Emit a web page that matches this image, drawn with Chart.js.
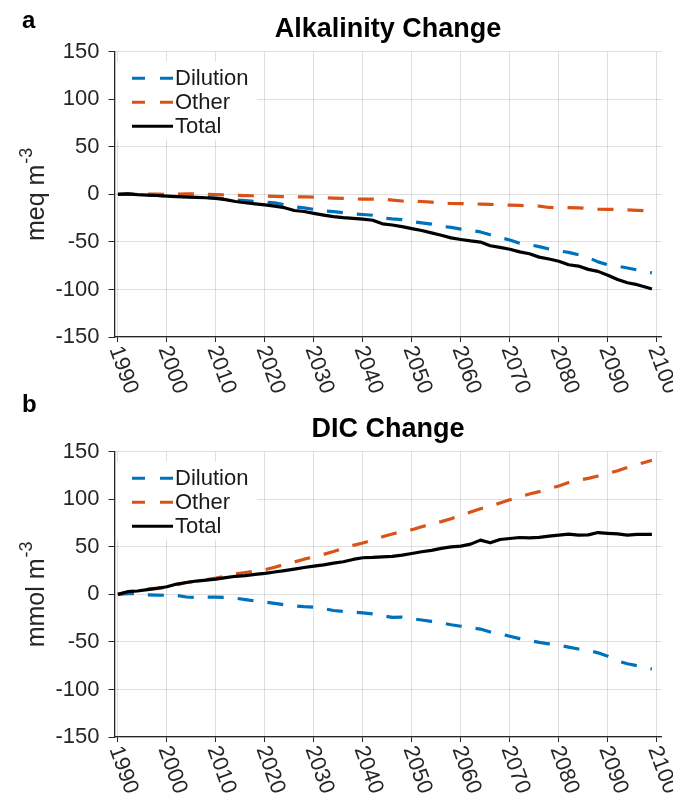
<!DOCTYPE html>
<html>
<head>
<meta charset="utf-8">
<script src="https://cdn.jsdelivr.net/npm/chart.js@4.4.1/dist/chart.umd.min.js"></script>
<style>
  html, body { margin: 0; padding: 0; background: #ffffff; width: 673px; height: 809px; overflow: hidden; }
  canvas { position: absolute; left: 0; }
  #chartA { top: 0; }
  #chartB { top: 380px; }
</style>
</head>
<body>
<canvas id="chartA" width="673" height="400"></canvas>
<canvas id="chartB" width="673" height="429"></canvas>
<script>
// Model years (every second year, plus the final year)
const years = [1990,1992,1994,1996,1998,2000,2002,2004,2006,2008,2010,
  2012,2014,2016,2018,2020,2022,2024,2026,2028,2030,
  2032,2034,2036,2038,2040,2042,2044,2046,2048,2050,
  2052,2054,2056,2058,2060,2062,2064,2066,2068,2070,
  2072,2074,2076,2078,2080,2082,2084,2086,2088,2090,
  2092,2094,2096,2098,2099];

// Alkalinity change, meq m^-3
const alkDilution = [0,0.5,-0.3,-0.8,-1.2,-1.8,-2.2,-2.6,-3,-3.4,-4,
  -4.8,-5.8,-6.6,-7.4,-8,
  -9,-11,-13.2,-14.3,-15.8,
  -17.3,-18.2,-19.3,-20.6,-21.2,
  -22,-24.8,-25.8,-26.5,-28.5,
  -30,-31.3,-33.5,-34.8,-36.5,
  -37.8,-39.5,-42.5,-45.5,-48,
  -51.5,-53,-55,-57.5,-59.5,
  -61,-63.5,-66.5,-71,-74,
  -75.5,-77.5,-79.5,-81.5,-82.5];
const alkOther = [0,0,0,0.3,0.2,0,0.3,0.5,0.4,0,-0.3,
  -0.6,-1,-1.3,-1.5,-1.8,
  -2.2,-2.5,-2.6,-2.5,-3,
  -3.5,-4,-4.3,-4.8,-5,
  -5,-5.2,-6,-7,-7.2,
  -7.5,-8.2,-9.3,-9.6,-9.8,
  -10,-10.2,-10.5,-11,-11.3,
  -11.6,-12,-12.3,-13.8,-14,
  -14,-14.2,-14.8,-15.5,-15.7,
  -16,-16.3,-16.8,-17.3,-17.5];
const alkTotal = [0,0.5,-0.3,-0.8,-1.2,-1.8,-2.3,-2.8,-3.2,-3.6,-4.2,
  -5.5,-7.5,-8.8,-10,-11,
  -12.3,-14,-17,-18,-20,
  -21.8,-23.5,-24.5,-25.2,-26,
  -27.2,-31,-32.2,-34,-36,
  -38,-40.5,-43,-45.8,-47.5,
  -49,-50.2,-54,-55.8,-57.7,
  -60.5,-62.5,-66,-68,-70.4,
  -74,-75.4,-78.9,-81,-85,
  -89.5,-93,-95,-98,-99.5];

// DIC change, mmol m^-3
const dicDilution = [0,0.8,0.5,-0.5,-0.8,-1,-1.2,-2.8,-3.2,-3,-3,
  -3.2,-4,-5.5,-7,-8,
  -9.5,-11,-12,-13,-13.5,
  -15,-17,-18,-18.5,-19.5,
  -20.5,-22.5,-24.2,-24,-25.5,
  -27,-28.5,-30,-32,-33.5,
  -35,-36.5,-39.5,-41.5,-44,
  -46.5,-48.5,-50.5,-52,-53.5,
  -55.5,-57.5,-59,-61.5,-65,
  -70,-73,-75,-77.5,-78.5];
const dicOther = [0,2.5,4,5.5,6.5,7.5,10,12.5,14,15.5,17,
  19,21.5,23,24.5,26,
  28.5,31.5,34,37,39.5,
  42,45,48.5,51.5,54,
  57,60.5,63.5,66,68,
  71,74,76.5,79.5,83,
  86.5,90,93,96,99.5,
  102.5,105.5,108,111,114,
  117.5,120,122,124.5,127,
  130,133.5,136.5,139.5,141];
const dicTotal = [0,2.8,3.5,5,6.3,8,10.8,12.5,14,15,16,
  17.5,19,19.6,21,22,
  23.5,25,26.6,28.2,29.7,
  31,32.8,34.3,36.7,38.5,
  38.8,39.5,40,41.3,43,
  44.8,46.3,48.3,50,50.7,
  52.8,57,54.2,57.7,58.7,
  59.8,59.4,60,61.2,62.2,
  63.3,62.2,62.5,65,64.2,
  63.5,62.2,63,63,63];

const seriesNames = ['Dilution', 'Other', 'Total'];
const xTicks = [1990,2000,2010,2020,2030,2040,2050,2060,2070,2080,2090,2100];
const yTicks = [-150,-100,-50,0,50,100,150];

const FONT = '"Liberation Sans", Arial, Helvetica, sans-serif';
const AXIS = '#262626';
const GRID = 'rgba(38,38,38,0.15)';
const COLORS = ['#0072BD', '#D95319', '#000000'];
const DASH = [16, 14];

function toPoints(vals) {
  return years.map((yr, i) => ({ x: yr, y: vals[i] }));
}

// Panel decorations: letter, title, y-axis unit label, rotated year labels and legend box
const panelDecor = {
  id: 'panelDecor',
  afterDraw(chart, args, opts) {
    const ctx = chart.ctx;
    const area = chart.chartArea;
    const xs = chart.scales.x;

    ctx.save();
    // panel letter
    ctx.fillStyle = '#000';
    ctx.font = 'bold 24px ' + FONT;
    ctx.textAlign = 'left';
    ctx.textBaseline = 'alphabetic';
    ctx.fillText(opts.letter, 22, opts.letterY);

    // title
    ctx.font = 'bold 27px ' + FONT;
    ctx.textAlign = 'center';
    ctx.fillText(opts.title, (area.left + area.right) / 2, area.top - 15);

    // y-axis label with superscript
    const mainFont = '25px ' + FONT;
    const supFont = '18px ' + FONT;
    ctx.font = mainFont;
    const wm = ctx.measureText(opts.unit).width;
    ctx.font = supFont;
    const ws = ctx.measureText(opts.unitExp).width;
    const cy = chart.scales.y.getPixelForValue(0);
    ctx.translate(44, cy);
    ctx.rotate(-Math.PI / 2);
    ctx.fillStyle = AXIS;
    ctx.textAlign = 'left';
    const start = -(wm + ws + 1) / 2;
    ctx.font = mainFont;
    ctx.fillText(opts.unit, start, 0);
    ctx.font = supFont;
    ctx.fillText(opts.unitExp, start + wm + 1, -12);
    ctx.restore();

    // rotated year labels
    ctx.save();
    ctx.fillStyle = AXIS;
    ctx.font = '22px ' + FONT;
    ctx.textAlign = 'left';
    ctx.textBaseline = 'middle';
    xTicks.forEach(v => {
      const px = xs.getPixelForValue(v);
      ctx.save();
      ctx.translate(px - 3, area.bottom + 10);
      ctx.rotate(70 * Math.PI / 180);
      ctx.fillText(String(v), 0, 0);
      ctx.restore();
    });
    ctx.restore();

    // legend
    ctx.save();
    ctx.fillStyle = '#ffffff';
    ctx.fillRect(area.left + 1.5, area.top + 10, 141, 78);
    ctx.font = '22px ' + FONT;
    ctx.textAlign = 'left';
    ctx.textBaseline = 'middle';
    seriesNames.forEach((name, i) => {
      const y = area.top + 26.5 + i * 24;
      const x0 = area.left + 17.5;
      ctx.beginPath();
      ctx.strokeStyle = COLORS[i];
      ctx.lineWidth = 3;
      ctx.setLineDash(i < 2 ? [13, 15] : []);
      ctx.moveTo(x0, y);
      ctx.lineTo(x0 + 41, y);
      ctx.stroke();
      ctx.setLineDash([]);
      ctx.fillStyle = '#1a1a1a';
      ctx.fillText(name, x0 + 43, y + 1);
    });
    ctx.restore();
  }
};

function makeChart(id, H, top, bottom, series, deco) {
  const ds = series.map((vals, i) => ({
    label: seriesNames[i],
    data: toPoints(vals),
    borderColor: COLORS[i],
    borderWidth: 3.2,
    borderDash: i < 2 ? DASH : [],
    borderCapStyle: 'butt',
    borderJoinStyle: 'round',
    pointRadius: 0,
    fill: false,
    tension: 0,
    order: 2 - i
  }));
  return new Chart(document.getElementById(id), {
    type: 'line',
    data: { datasets: ds },
    options: {
      responsive: false,
      animation: false,
      devicePixelRatio: 1,
      layout: { padding: { left: 0, right: 11.3, top: top, bottom: 0 } },
      plugins: { legend: { display: false }, tooltip: { enabled: false }, panelDecor: deco },
      scales: {
        x: {
          type: 'linear', min: 1989.3, max: 2101,
          afterBuildTicks: s => { s.ticks = xTicks.map(v => ({ value: v })); },
          afterFit: s => { s.height = H - bottom; },
          ticks: { display: false },
          grid: { color: GRID, lineWidth: 1, tickColor: AXIS, tickLength: 5, drawTicks: true },
          border: { color: AXIS, width: 1.3 }
        },
        y: {
          type: 'linear', min: -150, max: 150,
          afterBuildTicks: s => { s.ticks = yTicks.map(v => ({ value: v })); },
          afterFit: s => { s.width = 114.5; },
          ticks: { font: { family: FONT, size: 22 }, color: AXIS, padding: 9 },
          grid: { color: GRID, lineWidth: 1, tickColor: AXIS, tickLength: 6, drawTicks: true },
          border: { color: AXIS, width: 1.3 }
        }
      }
    },
    plugins: [panelDecor]
  });
}

makeChart('chartA', 400, 51.7, 337, [alkDilution, alkOther, alkTotal],
  { letter: 'a', letterY: 28, title: 'Alkalinity Change', unit: 'meq m', unitExp: '-3' });
makeChart('chartB', 429, 71.7, 357, [dicDilution, dicOther, dicTotal],
  { letter: 'b', letterY: 32, title: 'DIC Change', unit: 'mmol m', unitExp: '-3' });
</script>
</body>
</html>
